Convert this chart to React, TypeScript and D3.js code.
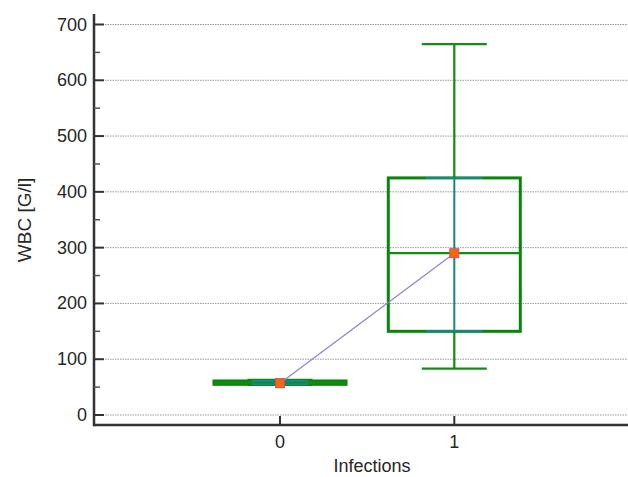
import React from "react";
import * as d3 from "d3";

const categories = [0, 1];
const whiskerLow = [54, 83];
const q1 = [55, 150];
const median = [58, 290];
const q3 = [61, 425];
const whiskerHigh = [63, 665];
const means = [57, 290];
const yTicks = [0, 100, 200, 300, 400, 500, 600, 700];
const yMinorTicks = [50, 150, 250, 350, 450, 550, 650];

const W = 628;
const H = 477;
const axisX = 94;
const axisY = 425;

export default function App() {
  const y = d3.scaleLinear().domain([0, 700]).range([415, 24.5]);
  const x = d3.scaleLinear().domain([0, 1]).range([280, 454.3]);
  const boxHalf = 66;
  const capHalf = 32.5;
  const ciHalf = 28.5;
  const green = "#0a850a";
  const wGreen = "#148c14";
  const teal = "#16868e";
  const font = "'Liberation Sans', Arial, sans-serif";
  const textColor = "#262626";

  const meanLine = d3
    .line<number>()
    .x((_, i) => x(categories[i]))
    .y((d) => y(d));

  return (
    <svg
      width={W}
      height={H}
      style={{ position: "absolute", left: 0, top: 0, background: "#fff" }}
      fontFamily={font}
    >
      {/* grid */}
      {yTicks.map((t) => (
        <line
          key={"g" + t}
          x1={105}
          x2={W}
          y1={y(t)}
          y2={y(t)}
          stroke="#9a9a9a"
          strokeWidth={1}
          strokeDasharray="1.5,1"
        />
      ))}
      {/* boxes */}
      {categories.map((c, i) => {
        const cx = x(c);
        return (
          <g key={"b" + c}>
            <line x1={cx} x2={cx} y1={y(whiskerHigh[i])} y2={y(q3[i])} stroke={wGreen} strokeWidth={2.2} />
            <line x1={cx} x2={cx} y1={y(q1[i])} y2={y(whiskerLow[i])} stroke={wGreen} strokeWidth={2.2} />
            <line x1={cx - capHalf} x2={cx + capHalf} y1={y(whiskerHigh[i])} y2={y(whiskerHigh[i])} stroke={wGreen} strokeWidth={2.2} />
            <line x1={cx - capHalf} x2={cx + capHalf} y1={y(whiskerLow[i])} y2={y(whiskerLow[i])} stroke={wGreen} strokeWidth={2.2} />
            <rect
              x={cx - boxHalf}
              y={y(q3[i])}
              width={boxHalf * 2}
              height={y(q1[i]) - y(q3[i])}
              fill="none"
              stroke={green}
              strokeWidth={3}
            />
            <line x1={cx - boxHalf} x2={cx + boxHalf} y1={y(median[i])} y2={y(median[i])} stroke={wGreen} strokeWidth={2.2} />
            <line x1={cx} x2={cx} y1={y(q3[i])} y2={y(q1[i])} stroke={teal} strokeWidth={2} />
            <line x1={cx - ciHalf} x2={cx + ciHalf} y1={y(q3[i])} y2={y(q3[i])} stroke={teal} strokeWidth={2} />
            <line x1={cx - ciHalf} x2={cx + ciHalf} y1={y(q1[i])} y2={y(q1[i])} stroke={teal} strokeWidth={2} />
          </g>
        );
      })}
      {/* mean line */}
      <path d={meanLine(means) || ""} fill="none" stroke="#8a84d2" strokeWidth={1.2} />
      {means.map((m, i) => (
        <rect
          key={"m" + i}
          x={x(categories[i]) - 4.5}
          y={y(m) - 4.5}
          width={9}
          height={9}
          fill="#ff6600"
          stroke="#c05080"
          strokeWidth={1}
        />
      ))}
      {/* y axis */}
      <line x1={axisX} x2={axisX} y1={14} y2={axisY + 1.25} stroke="#333" strokeWidth={2.5} />
      {yTicks.map((t) => (
        <g key={"yt" + t}>
          <line x1={axisX} x2={axisX + 10} y1={y(t)} y2={y(t)} stroke="#333" strokeWidth={2} />
          <text
            x={87}
            y={y(t)}
            textAnchor="end"
            dominantBaseline="central"
            fontSize={18}
            fill={textColor}
          >
            {t}
          </text>
        </g>
      ))}
      {yMinorTicks.map((t) => (
        <line key={"ym" + t} x1={axisX} x2={axisX + 6} y1={y(t)} y2={y(t)} stroke="#555" strokeWidth={1.5} />
      ))}
      {/* x axis */}
      <line x1={axisX} x2={W} y1={axisY} y2={axisY} stroke="#333" strokeWidth={2.5} />
      {categories.map((c) => (
        <g key={"xt" + c}>
          <line x1={x(c)} x2={x(c)} y1={axisY} y2={axisY - 9} stroke="#333" strokeWidth={2} />
          <text
            x={x(c)}
            y={441.5}
            textAnchor="middle"
            dominantBaseline="central"
            fontSize={18}
            fill={textColor}
          >
            {c}
          </text>
        </g>
      ))}
      <text x={372} y={472} textAnchor="middle" fontSize={18} fill={textColor}>
        Infections
      </text>
      <text
        transform={`translate(24,220) rotate(-90)`}
        textAnchor="middle"
        dominantBaseline="central"
        fontSize={19}
        fill={textColor}
      >
        WBC [G/l]
      </text>
    </svg>
  );
}
